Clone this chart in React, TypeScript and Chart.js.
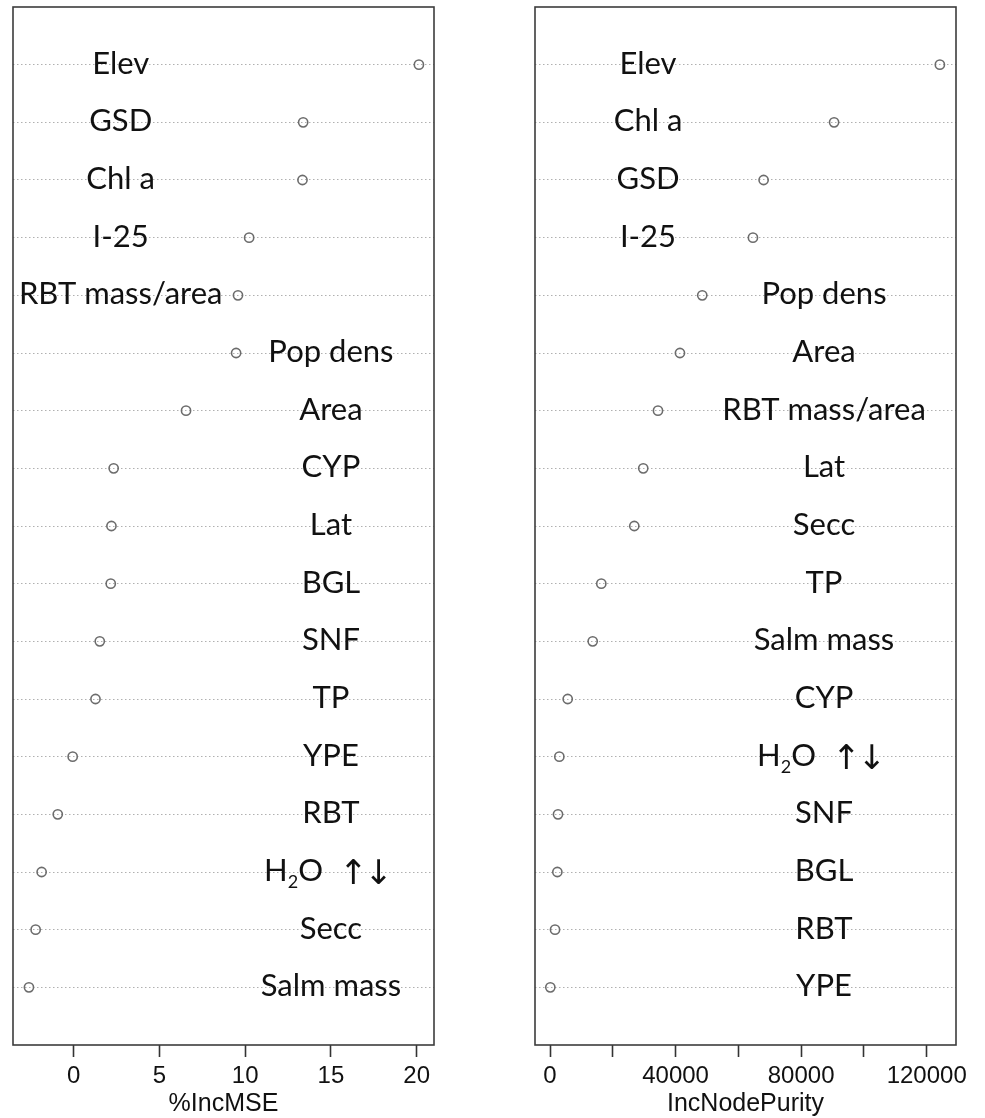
import React, { useEffect, useRef } from 'react';
import { Chart, registerables } from 'chart.js';

Chart.register(...registerables);

// Left panel: permutation importance (%IncMSE), rows listed top to bottom
const mseNames = [
  'Elev', 'GSD', 'Chl a', 'I-25', 'RBT mass/area', 'Pop dens', 'Area', 'CYP', 'Lat',
  'BGL', 'SNF', 'TP', 'YPE', 'RBT', 'H2O ↑↓', 'Secc', 'Salm mass',
];
const mseValues = [
  20.13, 13.38, 13.34, 10.23, 9.58, 9.47, 6.55, 2.33, 2.2,
  2.16, 1.52, 1.27, -0.06, -0.93, -1.87, -2.22, -2.61,
];
const mseTicks = [0, 5, 10, 15, 20];
const mseTickLabels = ['0', '5', '10', '15', '20'];

// Right panel: node purity importance (IncNodePurity), rows listed top to bottom
const purityNames = [
  'Elev', 'Chl a', 'GSD', 'I-25', 'Pop dens', 'Area', 'RBT mass/area', 'Lat', 'Secc',
  'TP', 'Salm mass', 'CYP', 'H2O ↑↓', 'SNF', 'BGL', 'RBT', 'YPE',
];
const purityValues = [
  124200, 90500, 68050, 64650, 48500, 41400, 34400, 29700, 26850,
  16340, 13600, 5640, 2970, 2550, 2340, 1600, 100,
];
const purityTicks = [0, 20000, 40000, 60000, 80000, 100000, 120000];
const purityTickLabels = ['0', '', '40000', '', '80000', '', '120000'];

const LABEL_FONT = 'Lato, "DejaVu Sans", sans-serif';
const LABEL_SIZE = 31;
const SUB_SIZE = 18;
const ARROW_FONT = '"DejaVu Sans", sans-serif';
const ARROW_SIZE = 34;
const AXIS_FONT = '"Liberation Sans", Arial, sans-serif';

type Seg = { t: string; kind: 'text' | 'sub' | 'arrow' };

// Split a label into normal text, chemical subscripts (a digit right after a
// capital letter) and arrow glyphs.
function segmentLabel(text: string): Seg[] {
  const segs: Seg[] = [];
  for (let k = 0; k < text.length; k++) {
    const ch = text[k];
    const prev = k > 0 ? text[k - 1] : '';
    let kind: Seg['kind'] = 'text';
    if (/[0-9]/.test(ch) && /[A-Z]/.test(prev)) kind = 'sub';
    else if (ch === '↑' || ch === '↓') kind = 'arrow';
    const last = segs[segs.length - 1];
    if (last && last.kind === kind && kind === 'text') last.t += ch;
    else segs.push({ t: ch, kind });
  }
  return segs;
}

function segFont(kind: Seg['kind']) {
  if (kind === 'sub') return `${SUB_SIZE}px ${LABEL_FONT}`;
  if (kind === 'arrow') return `${ARROW_SIZE}px ${ARROW_FONT}`;
  return `${LABEL_SIZE}px ${LABEL_FONT}`;
}

function drawLabel(ctx: CanvasRenderingContext2D, text: string, cx: number, base: number) {
  const segs = segmentLabel(text);
  const hasArrow = segs.some((s) => s.kind === 'arrow');
  const gap = 8; // extra room between formula and arrows
  let total = 0;
  const widths = segs.map((s, i) => {
    ctx.font = segFont(s.kind);
    let w = ctx.measureText(s.t).width;
    if (s.kind === 'arrow') w -= 3;
    if (s.kind === 'arrow' && i > 0 && segs[i - 1].kind !== 'arrow') w += gap;
    total += w;
    return w;
  });
  let x = cx - total / 2 - (hasArrow ? 4 : 0);
  ctx.textAlign = 'left';
  segs.forEach((s, i) => {
    ctx.font = segFont(s.kind);
    let dx = 0;
    if (s.kind === 'arrow' && i > 0 && segs[i - 1].kind !== 'arrow') dx = gap;
    const dy = s.kind === 'sub' ? 7 : s.kind === 'arrow' ? 3 : 0;
    ctx.fillText(s.t, x + dx, base + dy);
    x += widths[i];
  });
}

type PanelCfg = {
  names: string[];
  values: number[];
  ticks: number[];
  tickLabels: string[];
  title: string;
  xMin: number;
  xMax: number;
  anchors: [number, number];
  leftCount: number;
  pad: { left: number; right: number; top: number };
  axisHeight: number;
};

function makePanel(canvas: HTMLCanvasElement, cfg: PanelCfg) {
  const n = cfg.names.length;
  const points = cfg.values.map((v, i) => ({ x: v, y: n - i }));
  const rowTicks = cfg.names.map((_, i) => n - i);

  const rowLabels = {
    id: 'rowLabels',
    afterDatasetsDraw(chart: any) {
      const ctx = chart.ctx as CanvasRenderingContext2D;
      const xs = chart.scales.x;
      const ys = chart.scales.y;
      ctx.save();
      ctx.fillStyle = '#111';
      ctx.textBaseline = 'alphabetic';
      cfg.names.forEach((name, i) => {
        const cx = xs.getPixelForValue(i < cfg.leftCount ? cfg.anchors[0] : cfg.anchors[1]);
        const base = ys.getPixelForValue(n - i) + 9;
        drawLabel(ctx, name, cx, base);
      });
      ctx.restore();
    },
  };

  const frame = {
    id: 'frame',
    afterDraw(chart: any) {
      const { left, top, right, bottom } = chart.chartArea;
      const ctx = chart.ctx as CanvasRenderingContext2D;
      ctx.save();
      ctx.strokeStyle = '#3c3c3c';
      ctx.lineWidth = 1.6;
      ctx.strokeRect(left, top, right - left, bottom - top);
      ctx.restore();
    },
  };

  return new Chart(canvas, {
    type: 'scatter',
    data: {
      datasets: [
        {
          data: points,
          pointRadius: 4.6,
          pointHoverRadius: 4.6,
          pointBorderColor: '#6c6c6c',
          pointBackgroundColor: 'rgba(255,255,255,0)',
          pointBorderWidth: 1.6,
          showLine: false,
        },
      ],
    },
    options: {
      animation: false,
      responsive: false,
      events: [],
      layout: { padding: { left: cfg.pad.left, right: cfg.pad.right, top: cfg.pad.top, bottom: 0 } },
      plugins: { legend: { display: false }, tooltip: { enabled: false } },
      scales: {
        x: {
          type: 'linear',
          position: 'bottom',
          min: cfg.xMin,
          max: cfg.xMax,
          afterBuildTicks: (ax: any) => {
            ax.ticks = cfg.ticks.map((v) => ({ value: v }));
          },
          afterFit: (ax: any) => {
            ax.height = cfg.axisHeight;
          },
          ticks: {
            autoSkip: false,
            maxRotation: 0,
            padding: 5,
            color: '#111',
            font: { family: AXIS_FONT, size: 24 },
            callback: (v: any) => {
              const k = cfg.ticks.indexOf(Number(v));
              return k >= 0 ? cfg.tickLabels[k] : '';
            },
          },
          grid: {
            drawOnChartArea: false,
            drawTicks: true,
            tickLength: 12,
            tickColor: '#333',
            tickWidth: 1.6,
          },
          border: { display: false },
          title: {
            display: true,
            text: cfg.title,
            color: '#111',
            font: { family: AXIS_FONT, size: 25 },
            padding: { top: 0, bottom: -1 },
          },
        },
        y: {
          type: 'linear',
          position: 'left',
          min: 0,
          max: n + 1,
          afterBuildTicks: (ax: any) => {
            ax.ticks = rowTicks.map((v) => ({ value: v }));
          },
          afterFit: (ax: any) => {
            ax.width = 0;
          },
          ticks: { display: false },
          grid: { drawTicks: false, color: '#b0b0b0', lineWidth: 1 },
          border: { display: false, dash: [1.5, 2.5] },
        },
      },
    } as any,
    plugins: [rowLabels, frame],
  });
}

export default function App() {
  const leftRef = useRef<HTMLCanvasElement>(null);
  const rightRef = useRef<HTMLCanvasElement>(null);

  useEffect(() => {
    const a = makePanel(leftRef.current!, {
      names: mseNames,
      values: mseValues,
      ticks: mseTicks,
      tickLabels: mseTickLabels,
      title: '%IncMSE',
      xMin: -3.54,
      xMax: 21.01,
      anchors: [2.74, 15.0],
      leftCount: 5,
      pad: { left: 13, right: 56, top: 7 },
      axisHeight: 73,
    });
    const b = makePanel(rightRef.current!, {
      names: purityNames,
      values: purityValues,
      ticks: purityTicks,
      tickLabels: purityTickLabels,
      title: 'IncNodePurity',
      xMin: -4780,
      xMax: 129340,
      anchors: [31220, 87290],
      leftCount: 4,
      pad: { left: 45, right: 29, top: 7 },
      axisHeight: 73,
    });
    return () => {
      a.destroy();
      b.destroy();
    };
  }, []);

  return (
    <div
      style={{
        position: 'absolute',
        left: 0,
        top: 0,
        width: 985,
        height: 1118,
        background: '#fff',
        overflow: 'hidden',
      }}
    >
      <canvas ref={leftRef} width={490} height={1118} style={{ position: 'absolute', left: 0, top: 0 }} />
      <canvas ref={rightRef} width={495} height={1118} style={{ position: 'absolute', left: 490, top: 0 }} />
    </div>
  );
}
